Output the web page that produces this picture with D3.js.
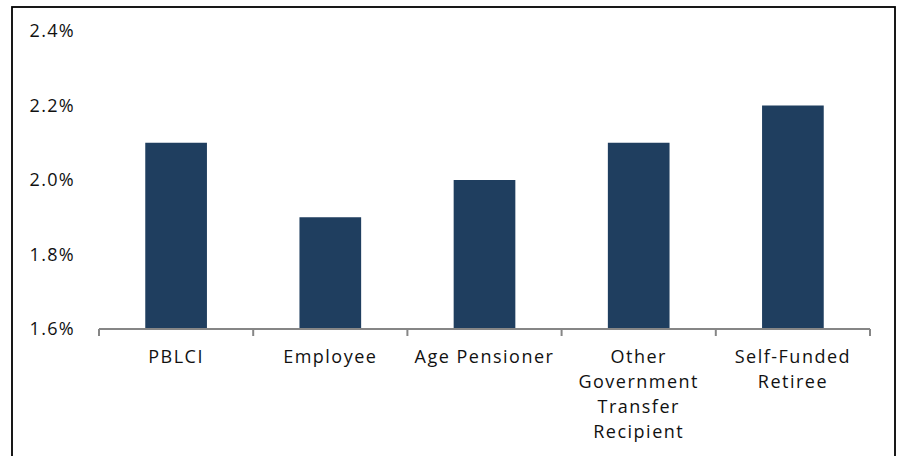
<!DOCTYPE html>
<html>
<head>
<meta charset="utf-8">
<script src="https://cdn.jsdelivr.net/npm/d3@7/dist/d3.min.js"></script>
<style>
  body { margin: 0; background: #fff; }
  text { font-family: "Open Sans", "Noto Sans", sans-serif; fill: #111; }
</style>
</head>
<body>
<div id="chart"></div>
<script>
// categorias y valores
const categories = [
  ['PBLCI'],
  ['Employee'],
  ['Age Pensioner'],
  ['Other', 'Government', 'Transfer', 'Recipient'],
  ['Self-Funded', 'Retiree']
];
const values = [2.1, 1.9, 2.0, 2.1, 2.2];
const yTicks = [1.6, 1.8, 2.0, 2.2, 2.4];

const W = 897, H = 456;
const m = { left: 99, right: 27, top: 31, bottom: 127 };

const svg = d3.select('#chart').append('svg')
  .attr('width', W).attr('height', H);

// marco exterior
svg.append('rect')
  .attr('x', 12).attr('y', 7).attr('width', 883).attr('height', 460)
  .attr('fill', 'none').attr('stroke', '#000').attr('stroke-width', 1.8);

const x = d3.scaleBand()
  .domain(categories.map((c, i) => i))
  .range([m.left, W - m.right])
  .paddingInner(0.6).paddingOuter(0.3);

const y = d3.scaleLinear()
  .domain([1.6, 2.4])
  .range([H - m.bottom, m.top]);

// barras
svg.append('g').selectAll('rect')
  .data(values).enter().append('rect')
  .attr('x', (d, i) => x(i))
  .attr('y', d => y(d))
  .attr('width', x.bandwidth())
  .attr('height', d => y(1.6) - y(d))
  .attr('fill', '#1f3e5f');

// eje y (solo etiquetas)
svg.append('g').selectAll('text')
  .data(yTicks).enter().append('text')
  .attr('x', 75).attr('y', d => y(d))
  .attr('dy', '0.36em')
  .attr('text-anchor', 'end')
  .attr('font-size', 18)
  .attr('letter-spacing', 1.3)
  .text(d => d.toFixed(1) + '%');

// eje x
const x0 = m.left, x1 = W - m.right, y0 = y(1.6);
const step = (x1 - x0) / categories.length;
const ax = svg.append('g').attr('stroke', '#868686').attr('stroke-width', 2);
ax.append('line').attr('x1', x0).attr('x2', x1).attr('y1', y0).attr('y2', y0);
d3.range(categories.length + 1).forEach(i => {
  ax.append('line')
    .attr('x1', x0 + i * step).attr('x2', x0 + i * step)
    .attr('y1', y0).attr('y2', y0 + 7);
});

const labels = svg.append('g').selectAll('text')
  .data(categories).enter().append('text')
  .attr('text-anchor', 'middle')
  .attr('font-size', 18)
  .attr('letter-spacing', 1.5);
labels.each(function(lines, i) {
  const t = d3.select(this);
  lines.forEach((ln, k) => {
    t.append('tspan')
      .attr('x', x(i) + x.bandwidth() / 2)
      .attr('y', 363 + k * 25)
      .text(ln);
  });
});
</script>
</body>
</html>
